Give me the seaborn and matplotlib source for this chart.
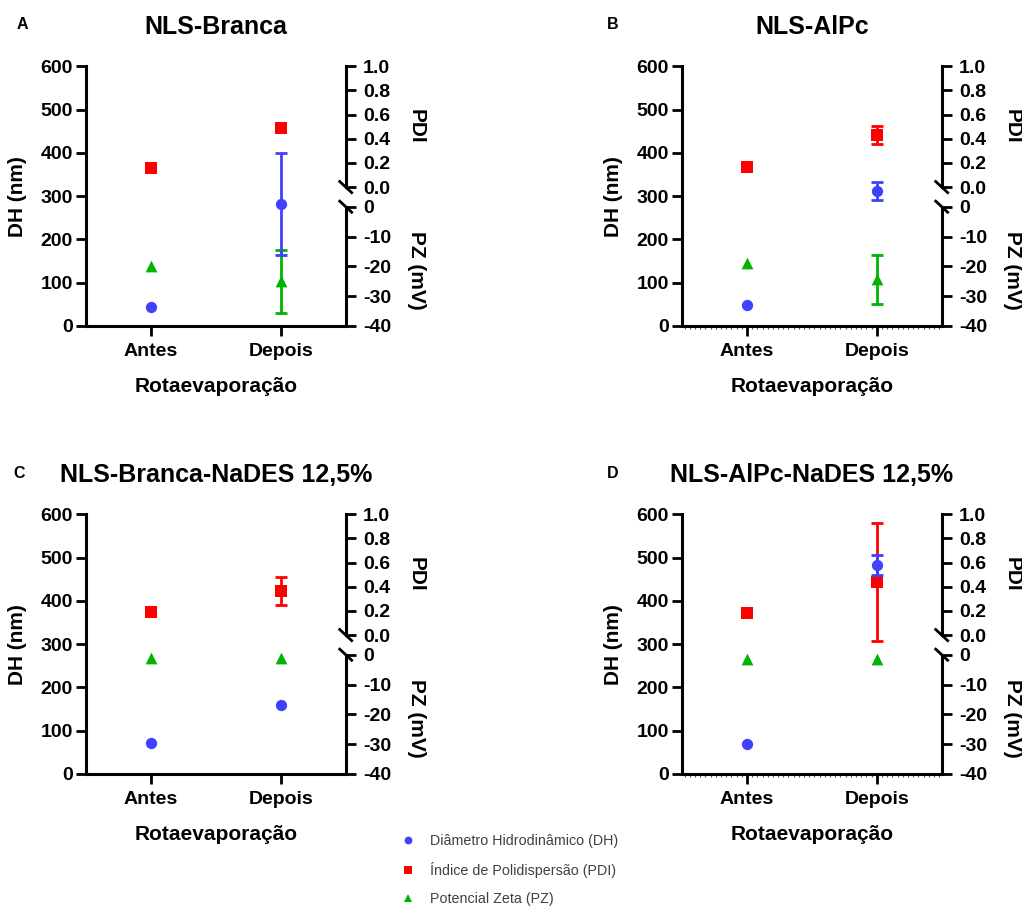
import numpy as np
import pandas as pd
import matplotlib
matplotlib.use("Agg")
import matplotlib.pyplot as plt
from matplotlib.lines import Line2D
from matplotlib.ticker import FormatStrFormatter, MultipleLocator
import seaborn as sns

# ---------------- data ----------------
categories = ["Antes", "Depois"]
panel_letters = ["A", "B", "C", "D"]
panel_titles = ["NLS-Branca", "NLS-AlPc", "NLS-Branca-NaDES 12,5%", "NLS-AlPc-NaDES 12,5%"]

# Diâmetro hidrodinâmico (nm), per panel [Antes, Depois]
dh_mean = [[44, 282], [48, 312], [71, 159], [70, 483]]
dh_err = [[0, 117], [0, 20], [0, 0], [0, 23]]
# Índice de polidispersão
pdi_mean = [[0.158, 0.49], [0.17, 0.431], [0.188, 0.362], [0.185, 0.437]]
pdi_err = [[0, 0], [0, 0.077], [0, 0.116], [0, 0.49]]
# Potencial zeta (mV)
pz_mean = [[-20, -25], [-19, -24.3], [-1.0, -1.0], [-1.4, -1.4]]
pz_err = [[0, 10.5], [0, 8.2], [0, 0], [0, 0]]

dh_ticks = [0, 100, 200, 300, 400, 500, 600]
pdi_ticks = [0.0, 0.2, 0.4, 0.6, 0.8, 1.0]
pz_ticks = [-40, -30, -20, -10, 0]

legend_labels = ["Diâmetro Hidrodinâmico (DH)", "Índice de Polidispersão (PDI)", "Potencial Zeta (PZ)"]

# ---------------- style ----------------
sns.set_theme(style="ticks", rc={
    "axes.edgecolor": "black", "xtick.color": "black", "ytick.color": "black",
    "text.color": "black", "axes.labelcolor": "black",
})
plt.rcParams["font.family"] = ["Liberation Sans", "DejaVu Sans"]
plt.rcParams["font.weight"] = "bold"
plt.rcParams["axes.labelweight"] = "bold"
plt.rcParams["axes.titleweight"] = "bold"
plt.rcParams["axes.unicode_minus"] = False

BLUE = "#4040FF"
RED = "#FF0000"
GREEN = "#00B400"

FW, FH = 1022, 909
fig = plt.figure(figsize=(FW / 100, FH / 100), dpi=100)

# layout (pixels): left, top of each plot area
layout = [(86, 66.3), (682, 66.3), (86, 514.3), (682, 514.3)]
W = H = 259.7
letter_pos = [(17, 29.3), (607, 29.3), (13, 478.3), (607, 478.3)]

F_PDI0 = 0.535   # axes fraction where PDI 0.0 sits
F_PZ0 = 0.4594   # axes fraction where PZ 0 sits
pdi_lo = -F_PDI0 / (1 - F_PDI0)
pz_hi = -40 + 40 / F_PZ0

SPINE_W = 2.2
TICK_LEN = 7.5
LAB_FS = 15
TICK_FS = 14

for i in range(4):
    l, t = layout[i]
    ax = fig.add_axes([l / FW, 1 - (t + H) / FH, W / FW, H / FH])
    ax_pdi = ax.twinx()
    ax_pz = ax.twinx()
    ax.set_zorder(3)
    ax.patch.set_visible(False)
    ax_pdi.set_zorder(2)
    ax_pz.set_zorder(1)

    # DH
    sns.scatterplot(x=categories, y=dh_mean[i], ax=ax, marker="o", s=66,
                    color=BLUE, linewidth=0, zorder=5)
    e = np.array(dh_err[i])
    m = e > 0
    if m.any():
        ax.errorbar(np.array(categories)[m], np.array(dh_mean[i])[m], yerr=e[m], fmt="none",
                    ecolor=BLUE, elinewidth=2, capsize=4.5, capthick=2, zorder=4)

    # PDI
    sns.scatterplot(x=categories, y=pdi_mean[i], ax=ax_pdi, marker="s", s=64,
                    color=RED, linewidth=0, zorder=5)
    e = np.array(pdi_err[i])
    m = e > 0
    if m.any():
        ax_pdi.errorbar(np.array(categories)[m], np.array(pdi_mean[i])[m], yerr=e[m], fmt="none",
                        ecolor=RED, elinewidth=2, capsize=4.5, capthick=2, zorder=4)

    # PZ
    sns.scatterplot(x=categories, y=pz_mean[i], ax=ax_pz, marker="^", s=72,
                    color=GREEN, linewidth=0, zorder=5)
    e = np.array(pz_err[i])
    m = e > 0
    if m.any():
        ax_pz.errorbar(np.array(categories)[m], np.array(pz_mean[i])[m], yerr=e[m], fmt="none",
                       ecolor=GREEN, elinewidth=2, capsize=4.5, capthick=2, zorder=4)

    # limits
    ax.set_xlim(-0.5, 1.5)
    ax.set_ylim(0, 600)
    ax_pdi.set_ylim(pdi_lo, 1.0)
    ax_pz.set_ylim(-40, pz_hi)

    # main axis styling
    ax.set_yticks(dh_ticks)
    for s in ["top", "right"]:
        ax.spines[s].set_visible(False)
    for s in ["left", "bottom"]:
        ax.spines[s].set_linewidth(SPINE_W)
        ax.spines[s].set_color("black")
    ax.tick_params(axis="y", length=TICK_LEN, width=2, labelsize=TICK_FS, pad=2)
    ax.tick_params(axis="x", length=TICK_LEN, width=2, labelsize=TICK_FS, pad=5)
    if i in (1, 3):
        ax.xaxis.set_minor_locator(MultipleLocator(0.04))
        ax.tick_params(axis="x", which="minor", length=2, width=0.8, color="#555555")
    ax.set_xlabel("Rotaevaporação", fontsize=LAB_FS, labelpad=12)
    ax.set_ylabel("DH (nm)", fontsize=LAB_FS, va="center")
    ax.yaxis.set_label_coords(-0.262, 0.5)
    ax.set_title(panel_titles[i], fontsize=18, pad=23)

    # twin axes styling
    for tw, ticks, bounds in [(ax_pdi, pdi_ticks, (0, 1)), (ax_pz, pz_ticks, (-40, 0))]:
        for s in ["top", "left", "bottom"]:
            tw.spines[s].set_visible(False)
        tw.spines["right"].set_linewidth(SPINE_W)
        tw.spines["right"].set_color("black")
        tw.spines["right"].set_bounds(*bounds)
        tw.set_yticks(ticks)
        tw.tick_params(axis="y", length=TICK_LEN, width=2, labelsize=TICK_FS, pad=5)
    ax_pdi.yaxis.set_major_formatter(FormatStrFormatter("%.1f"))
    ax_pz.yaxis.set_major_formatter(FormatStrFormatter("%d"))
    ax_pdi.set_ylabel("PDI", fontsize=LAB_FS, rotation=270, va="center", ha="center")
    ax_pdi.yaxis.set_label_coords(1.273, 0.77)
    ax_pz.set_ylabel("PZ (mV)", fontsize=LAB_FS, rotation=270, va="center", ha="center")
    ax_pz.yaxis.set_label_coords(1.273, 0.2156)

    # axis break marks
    dx, dy = 7 / W, 6.5 / H
    for yc in (F_PDI0, F_PZ0):
        ax_pdi.plot([1 - dx, 1 + dx], [yc + dy, yc - dy], transform=ax_pdi.transAxes,
                    color="black", lw=2, clip_on=False, solid_capstyle="butt")

    lx, ly = letter_pos[i]
    fig.text(lx / FW, 1 - ly / FH, panel_letters[i], fontsize=11.5, fontweight="bold",
             ha="left", va="baseline")

# legend
handles = [
    Line2D([], [], marker="o", color=BLUE, linestyle="none", markersize=5.6, markeredgewidth=0),
    Line2D([], [], marker="s", color=RED, linestyle="none", markersize=5.3, markeredgewidth=0),
    Line2D([], [], marker="^", color=GREEN, linestyle="none", markersize=5.3, markeredgewidth=0),
]
fig.legend(handles, legend_labels, loc="center left", bbox_to_anchor=(401 / FW, 1 - 870 / FH),
           frameon=False, handlelength=1.0, handletextpad=1.0, labelspacing=0.97,
           borderpad=0, borderaxespad=0, labelcolor="#404040",
           prop={"family": ["Liberation Sans", "DejaVu Sans"], "weight": "normal", "size": 10.3})

fig.savefig("out.png", dpi=100, facecolor="white")
